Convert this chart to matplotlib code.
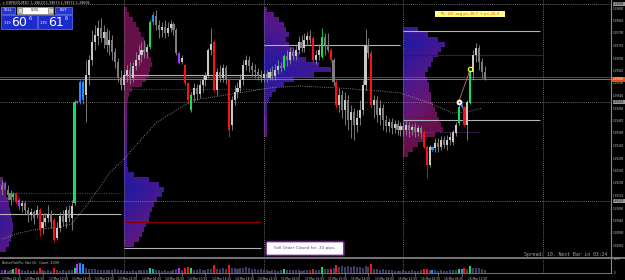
import matplotlib
matplotlib.use("Agg")
import matplotlib.pyplot as plt
import numpy as np
from matplotlib.patches import Rectangle, FancyBboxPatch
from matplotlib.colors import LinearSegmentedColormap

# ---------------- data (prices in points, 1 point = 0.00001) ----------------
first_bar = 6   # bar 0 = 13 Mar 00:00, M30 bars
opens_pt = [139184,139192,139164,139152,139136,139152,139124,139100,139112,139084,
            139064,139076,139068,139084,139012,139036,139052,139068,139044,138972,
            139012,139060,139036,139084,139052,139112,139512,139516,139524,139544,
            139624,139684,139756,139780,139812,139772,139796,139744,139764,139716,
            139676,139612,139584,139624,139644,139612,139660,139684,139704,139724,
            139716,139736,139836,139860,139824,139804,139816,139792,139812,139828,
            139804,139712,139676,139664,139592,139484,139544,139572,139548,139584,
            139604,139620,139724,139756,139564,139636,139612,139652,139604,139424,
            139524,139556,139572,139604,139664,139684,139660,139644,139636,139620,
            139612,139628,139612,139636,139620,139644,139660,139652,139700,139684,
            139716,139700,139724,139756,139732,139764,139780,139772,139684,139704,
            139696,139776,139744,139724,139684,139596,139504,139544,139484,139524,
            139444,139476,139424,139452,139484,139584,139744,139712,139504,139524,
            139464,139492,139444,139420,139436,139412,139428,139404,139420,139404,
            139424,139404,139416,139396,139412,139396,139336,139264,139324,139332,
            139352,139336,139364,139344,139364,139356,139392,139432,139496,139496,
            139424,139512,139636,139704,139732,139676,139636]
highs_pt = [139204,139200,139184,139164,139156,139156,139132,139124,139120,139096,
            139092,139084,139104,139092,139068,139072,139104,139084,139052,139036,
            139076,139084,139100,139104,139124,139524,139524,139604,139604,139684,
            139704,139804,139824,139844,139852,139824,139812,139804,139784,139732,
            139692,139644,139644,139664,139676,139676,139716,139744,139756,139764,
            139748,139844,139876,139884,139844,139836,139844,139836,139844,139836,
            139812,139716,139704,139668,139596,139556,139592,139588,139604,139620,
            139636,139732,139812,139764,139652,139664,139668,139664,139612,139540,
            139584,139596,139628,139684,139704,139700,139676,139668,139652,139644,
            139644,139644,139652,139660,139668,139684,139676,139708,139724,139736,
            139732,139748,139780,139784,139792,139796,139804,139780,139724,139748,
            139812,139792,139792,139732,139692,139604,139572,139564,139556,139544,
            139504,139492,139484,139524,139604,139808,139772,139724,139544,139540,
            139524,139508,139464,139452,139452,139444,139444,139436,139436,139444,
            139436,139428,139432,139424,139420,139404,139340,139344,139340,139372,
            139372,139380,139380,139384,139396,139404,139436,139504,139508,139500,
            139524,139644,139724,139752,139744,139692,139660]
lows_pt = [139144,139160,139124,139104,139124,139108,139084,139076,139068,139036,
           139044,139028,139052,138980,138988,139020,139036,139012,138956,138964,
           138996,139020,139012,139036,139004,139104,139508,139508,139508,139436,
           139584,139664,139724,139744,139756,139732,139716,139704,139684,139652,
           139596,139564,139564,139596,139588,139596,139644,139664,139676,139692,
           139692,139728,139824,139804,139772,139776,139772,139780,139796,139784,
           139704,139668,139668,139584,139508,139476,139516,139524,139532,139556,
           139580,139612,139704,139556,139544,139596,139596,139588,139376,139404,
           139504,139532,139556,139584,139644,139636,139620,139612,139604,139596,
           139596,139596,139604,139604,139604,139628,139636,139644,139660,139668,
           139684,139684,139708,139716,139716,139744,139748,139676,139668,139684,
           139692,139704,139716,139676,139580,139492,139476,139452,139424,139404,
           139372,139364,139396,139424,139464,139564,139692,139492,139452,139436,
           139424,139404,139396,139396,139388,139392,139384,139380,139380,139384,
           139376,139384,139376,139380,139372,139332,139212,139256,139320,139316,
           139316,139324,139332,139324,139344,139344,139380,139424,139492,139420,
           139364,139508,139604,139676,139644,139612,139604]
closes_pt = [139164,139168,139144,139124,139148,139116,139100,139112,139084,139064,
             139076,139052,139084,139004,139036,139052,139068,139036,138964,139012,
             139060,139036,139084,139052,139100,139516,139520,139596,139596,139624,
             139684,139756,139784,139812,139772,139796,139744,139764,139716,139676,
             139612,139584,139624,139644,139612,139660,139684,139704,139724,139716,
             139736,139836,139864,139824,139804,139816,139792,139812,139828,139804,
             139712,139672,139692,139592,139524,139544,139572,139548,139584,139604,
             139620,139724,139748,139564,139636,139612,139652,139604,139404,139524,
             139556,139572,139604,139664,139684,139660,139644,139636,139620,139612,
             139628,139612,139636,139620,139644,139660,139652,139700,139684,139716,
             139700,139724,139756,139732,139764,139780,139764,139684,139704,139724,
             139776,139744,139724,139684,139596,139504,139544,139484,139524,139444,
             139476,139424,139452,139484,139584,139744,139712,139504,139524,139464,
             139492,139444,139420,139436,139412,139428,139404,139420,139404,139424,
             139404,139416,139396,139412,139392,139336,139264,139336,139336,139352,
             139336,139364,139344,139364,139376,139396,139424,139496,139504,139424,
             139516,139636,139704,139732,139676,139636,139606]

# bars painted by the volume indicator (candle + volume colour)
signal_bars = {7: "m", 10: "g", 11: "r", 12: "m", 19: "r", 24: "r", 31: "g", 32: "m",
               33: "b", 34: "b", 57: "g", 58: "b", 67: "m", 69: "r", 70: "r", 71: "g",
               79: "r", 84: "r", 103: "g", 113: "r", 116: "g", 119: "r", 121: "r",
               133: "r", 151: "r", 152: "r", 154: "b", 163: "g", 164: "b", 165: "r",
               167: "g"}

volumes = [900, 900, 600, 900, 1200, 1500, 1200, 900, 600, 900,
           600, 900, 600, 1500, 900, 600, 900, 600, 1500, 900,
           600, 900, 600, 900, 900, 1500, 2700, 3000, 2700, 1500,
           1200, 1200, 1200, 900, 900, 900, 900, 900, 900, 1200,
           900, 900, 600, 600, 600, 900, 600, 900, 900, 900,
           900, 1500, 1200, 900, 900, 600, 900, 600, 600, 900,
           1200, 1500, 900, 1500, 1800, 1500, 900, 900, 1200, 900,
           900, 1200, 1200, 2400, 1200, 1200, 1500, 1200, 2400, 1500,
           1500, 1200, 1500, 1500, 1800, 1500, 1200, 1200, 900, 1200,
           900, 900, 600, 900, 900, 600, 900, 1200, 900, 900,
           900, 900, 900, 600, 900, 900, 900, 1200, 900, 900,
           1800, 1200, 1200, 1200, 1500, 2400, 1800, 2100, 1800, 2100,
           1800, 2100, 1800, 1800, 1500, 2100, 1800, 2700, 1200, 1200,
           900, 1200, 900, 900, 900, 600, 600, 600, 900, 600,
           600, 900, 600, 600, 900, 1200, 1200, 900, 900, 900,
           600, 900, 600, 600, 900, 900, 900, 1200, 1200, 1500,
           1200, 2100, 1500, 1500, 1500, 1200, 900]

# moving average (dotted) read at a few bars
ma_bars = [6, 12, 17, 23, 26, 30, 35, 40, 43, 48, 54, 59, 66, 72, 83, 98, 108, 122,
           136, 143, 153, 161, 166, 171]
ma_pt = [138968, 138992, 139004, 139012, 139016, 139028, 139100, 139180, 139232,
         139288, 139368, 139432, 139484, 139524, 139544, 139572, 139580, 139572,
         139560, 139552, 139512, 139472, 139476, 139492]

# previous-day volume profiles drawn at each day start: (start bar, top level, widths in bars)
profile_starts = [0, 48, 96, 144]
profile_tops_pt = [139204, 139884, 139884, 139804]
profile_widths = [
    [6.2, 6.6, 7.0, 7.4, 7.8, 8.2, 8.6, 8.9, 9.3, 9.6, 9.6, 9.3, 8.9, 8.2, 7.2],
    [1.0, 1.7, 3.1, 4.1, 5.2, 5.8, 6.9, 7.6, 8.2, 8.6, 9.3, 9.6, 8.9, 8.6, 7.6, 6.2,
     2.7, 1.7, 1.4, 1.0, 1.0, 1.0, 1.0, 1.0, 1.0, 1.0, 1.0, 1.0, 1.0, 1.0, 1.0, 1.0,
     1.4, 3.4, 8.6, 12.0, 13.7, 13.1, 11.3, 10.3, 9.6, 8.9, 8.6, 7.6, 6.9, 6.2, 5.2, 3.4],
    [1.0, 3.4, 5.2, 6.9, 7.6, 8.6, 7.6, 8.6, 10.3, 12.0, 14.4, 18.9, 23.0, 17.2, 10.3,
     6.9, 4.1, 2.7, 1.7, 1.0, 1.0, 1.0, 1.0, 1.0, 1.0, 1.0],
    [5.2, 8.6, 12.0, 14.4, 13.1, 12.0, 10.3, 9.6, 8.6, 7.6, 8.2, 8.9, 8.9, 9.6, 9.6,
     10.3, 11.0, 11.7, 12.4, 13.1, 13.7, 11.0, 7.6, 5.2, 3.4, 1.7],
]

# level lines: price, from bar, to bar, kind
level_pt    = [139152, 139068, 139624, 139568, 139036, 138932, 139744, 139800, 139704, 139444, 139396]
level_from  = [5, 5, 48, 48, 48, 48, 96, 144, 144, 144, 144]
level_to    = [47, 47, 95, 95, 95, 95, 143, 191, 192, 191, 170]
level_kind  = ["pdot", "grey", "grey", "pdot", "red", "grey", "grey", "grey", "red", "grey", "pdot"]
full_dotted_pt = [139908, 139516, 139120]
bid_pt, ask_pt = 139606, 139616
separator_bars = [48, 96, 144, 192]
trade_bars = [163, 167]
trade_pt = [139516, 139648]

price_ticks_pt = [139890 - 50 * k for k in range(20)]
time_tick_bars = [4 + 8 * k for k in range(21)]
time_tick_labels = ["13 Mar 02:00", "13 Mar 06:00", "13 Mar 10:00", "13 Mar 14:00", "13 Mar 18:00",
                    "13 Mar 22:00", "14 Mar 02:00", "14 Mar 06:00", "14 Mar 10:00", "14 Mar 14:00",
                    "14 Mar 18:00", "14 Mar 22:00", "15 Mar 02:00", "15 Mar 06:00", "15 Mar 10:00",
                    "15 Mar 14:00", "15 Mar 18:00", "15 Mar 22:00", "16 Mar 02:00", "16 Mar 06:00",
                    "16 Mar 10:00"]

# ---------------- figure ----------------
W, H = 625, 280
fig = plt.figure(figsize=(W / 100, H / 100), dpi=100)
fig.patch.set_facecolor("black")
FN = ["DejaVu Sans"]

def rect(x0, y0, x1, y1):
    return [x0 / W, 1 - y1 / H, (x1 - x0) / W, (y1 - y0) / H]

ax = fig.add_axes(rect(0, 0, 611, 257))
axv = fig.add_axes(rect(0, 259, 611, 273))
for a in (ax, axv):
    a.set_facecolor("black")
    for s in a.spines.values():
        s.set_visible(False)
    a.set_xticks([]); a.set_yticks([])

P = lambda v: np.asarray(v, dtype=float) / 1e5
o, h, l, c = P(opens_pt), P(highs_pt), P(lows_pt), P(closes_pt)
bars = np.arange(first_bar, first_bar + len(o))
assert len(o) == len(h) == len(l) == len(c) == len(volumes)

sig_col = {"r": "#ff1010", "g": "#10e060", "b": "#1e90ff", "m": "#b030ff"}

# profiles
cmap = LinearSegmentedColormap.from_list("vp", ["#1c1ca0", "#34189a", "#52188a", "#661670", "#66104a"])
for sb, top, wl in zip(profile_starts, profile_tops_pt, profile_widths):
    w = np.asarray(wl)
    n = len(w)
    step = 0.0002
    top_p = top / 1e5
    poc = int(np.argmax(w))
    wmax = w.max()
    ncol = 120
    img = np.zeros((n, ncol, 4))
    xs = (np.arange(ncol) + 0.5) / ncol * wmax
    for i in range(n):
        d = abs(i - poc) / 20.0
        for j, xv in enumerate(xs):
            if xv <= w[i]:
                t = np.clip(0.05 + 0.9 * d + 0.35 * xv / wmax, 0, 1)
                img[i, j, :3] = cmap(t)[:3]
                img[i, j, 3] = 1
    ax.imshow(img, extent=[sb, sb + wmax, top_p - step * (n - 0.5), top_p + step * 0.5],
              aspect="auto", interpolation="nearest", zorder=1)

# separators
for sbar in separator_bars:
    for a in (ax, axv):
        a.axvline(sbar, color="#8a8a8a", lw=0.6, ls=(0, (1, 1.5)), zorder=2)

# level lines
for p, f, t, k in zip(level_pt, level_from, level_to, level_kind):
    if k == "grey":
        ax.hlines(p / 1e5, f, t, color="#b4b4b4", lw=0.8, zorder=2)
    elif k == "red":
        ax.hlines(p / 1e5, f, t, color="#8a0000", lw=0.8, zorder=2)
    else:
        ax.hlines(p / 1e5, f, t, color="#7a2aa0", lw=0.7, ls=(0, (1, 1.5)), zorder=2)
for p in full_dotted_pt:
    ax.axhline(p / 1e5, color="#8a8a8a", lw=0.6, ls=(0, (1, 1.5)), zorder=2)
ax.axhline(bid_pt / 1e5, color="#d06018", lw=0.7, zorder=2)
ax.axhline(ask_pt / 1e5, color="#b05018", lw=0.5, zorder=2)

# moving average
ax.plot(ma_bars, P(ma_pt), color="#a0a0a0", lw=0.6, ls=(0, (1, 1.6)), zorder=3)

# candles
up = c >= o
body_col = []
wick_col = []
for b, u in zip(bars, up):
    if b in signal_bars:
        body_col.append(sig_col[signal_bars[b]]); wick_col.append(sig_col[signal_bars[b]])
    else:
        body_col.append("#c8c8c8" if u else "#7c7c7c"); wick_col.append("#8c8c8c")
ax.vlines(bars, l, h, colors=wick_col, lw=0.6, zorder=4)
hgt = np.maximum(np.abs(c - o), 0.00002)
ax.bar(bars, hgt, bottom=np.minimum(o, c), width=0.72, color=body_col, lw=0, zorder=5)

# trade markers
ax.plot(trade_bars, P(trade_pt), color="#c07070", lw=0.6, zorder=6)
ax.plot(trade_bars[0], P(trade_pt)[0], "o", ms=3.2, mfc="white", mec="white", zorder=7)
ax.plot(trade_bars[0], P(trade_pt)[0], "o", ms=1.3, mfc="#d02020", mec="none", zorder=8)
ax.plot(trade_bars[1], P(trade_pt)[1], "o", ms=3.2, mfc="none", mec="#ffff30", mew=0.8, zorder=7)

ax.set_xlim(5.39, 215.35)
ax.set_ylim(1.38896, 1.39924)

# volume panel
vcol = [sig_col[signal_bars[b]] if b in signal_bars else "#3c3c64" for b in bars]
axv.bar(bars, volumes, width=0.7, color=vcol, lw=0)
axv.set_xlim(5.39, 215.35)
axv.set_ylim(0, 4200)

# price axis labels
tr = ax.get_yaxis_transform()
for p in price_ticks_pt:
    ax.text(1.0 + 2 / 611, p / 1e5, "%.5f" % (p / 1e5), transform=tr, fontsize=2.0,
            color="#c8c8c8", va="center", ha="left", family=FN, clip_on=False)
for p in full_dotted_pt:
    ax.text(1.0 + 2 / 611, p / 1e5, "%.5f" % (p / 1e5), transform=tr, fontsize=2.0, color="black",
            va="center", ha="left", family=FN, clip_on=False,
            bbox=dict(boxstyle="square,pad=0.15", fc="#9a9a9a", ec="none"))
ax.text(1.0 + 2 / 611, bid_pt / 1e5, "%.5f" % (bid_pt / 1e5), transform=tr, fontsize=2.0,
        color="white", va="center", ha="left", family=FN, clip_on=False,
        bbox=dict(boxstyle="square,pad=0.2", fc="#e05010", ec="none"))

trv = axv.get_yaxis_transform()
axv.text(1.0 + 3 / 611, 4099, "4099", transform=trv, fontsize=2.0, color="#c8c8c8",
         va="center", family=FN, clip_on=False)
axv.text(1.0 + 3 / 611, 0, "0", transform=trv, fontsize=2.0, color="#c8c8c8",
         va="center", family=FN, clip_on=False)

# time axis labels
trx = axv.get_xaxis_transform()
for b, lab in zip(time_tick_bars, time_tick_labels):
    axv.plot([b, b], [0, -0.18], transform=trx, color="#a0a0a0", lw=0.4, clip_on=False)
    axv.text(b + 2.1, -0.25, lab, transform=trx, fontsize=2.1, color="#c8c8c8",
             ha="left", va="top", family=FN, clip_on=False)

# ---------------- UI overlay (pixel coordinates) ----------------
ui = fig.add_axes([0, 0, 1, 1], zorder=10)
ui.set_xlim(0, W); ui.set_ylim(H, 0); ui.axis("off"); ui.patch.set_alpha(0)

# window borders
ui.plot([611, 611], [0, 273], color="#8a8a8a", lw=0.8)
ui.plot([0, 625], [258, 258], color="#8a8a8a", lw=1.2)
ui.plot([0, 611], [273.3, 273.3], color="#8a8a8a", lw=0.6)

ui.text(3, 3.2, "\u25be GBPUSD,M30  1.39629 1.39673 1.39572 1.39606", fontsize=2.4, color="#d8d8d8",
        va="center", ha="left", family=FN)

# one-click trading panel
def btn(x0, y0, x1, y1, fc, ec):
    ui.add_patch(Rectangle((x0, y0), x1 - x0, y1 - y0, fc=fc, ec=ec, lw=0.5))
btn(1, 7, 15, 13.5, "#2434d8", "#7080ff")
ui.text(8, 10.3, "SELL", fontsize=2.6, color="white", ha="center", va="center", family=FN)
btn(17, 7, 53, 13.5, "white", "#a0a0a0")
btn(17.5, 7.5, 22, 13, "#d0d0d0", "#808080")
btn(48, 7.5, 52.5, 13, "#d0d0d0", "#808080")
ui.text(35, 10.3, "0.01", fontsize=2.6, color="black", ha="center", va="center", family=FN)
btn(55, 7, 72, 13.5, "#2434d8", "#7080ff")
ui.text(63.5, 10.3, "BUY", fontsize=2.6, color="white", ha="center", va="center", family=FN)
btn(1, 15, 36.5, 28.5, "#1c2ccc", "#6a7aff")
btn(37.5, 15, 72, 28.5, "#1c2ccc", "#6a7aff")
for x0, big in ((1, "60"), (37.5, "61")):
    ui.text(x0 + 2.5, 23.5, "1.39", fontsize=2.4, color="white", ha="left", va="center", family=FN)
    ui.text(x0 + 18.5, 22, big, fontsize=9, color="white", ha="center", va="center", family=FN)
    ui.text(x0 + 27.5, 18.5, "6", fontsize=3.4, color="white", ha="left", va="center", family=FN)

# yellow profit label
ui.add_patch(Rectangle((435, 10.5), 70, 6.5, fc="#ffff88", ec="none"))
ui.text(470, 13.8, "PL: 2/2  avg p=-16.7  + p=-15.3", fontsize=2.6, color="#e04000",
        ha="center", va="center", family=FN)

# order closed message
ui.add_patch(FancyBboxPatch((266, 241.5), 78, 14, boxstyle="round,pad=0,rounding_size=1.5",
                            fc="white", ec="#6a1a8a", lw=1.2))
ui.text(305, 248.5, "Sell Order Closed for -33 pips.", fontsize=3.0, color="#6a3ab0",
        ha="center", va="center", family=["DejaVu Sans"])

ui.text(607, 254.5, "Spread: 10. Next Bar in 03:24", fontsize=3.5, color="#a0a0a0",
        ha="right", va="center", family=["DejaVu Sans Mono"])

ui.text(2, 262.5, "BetterTickPro  Net Ch.  Count  4099", fontsize=2.3, color="#c0c0c0",
        ha="left", va="center", family=FN)

fig.savefig("out.png", dpi=100, facecolor="black")
